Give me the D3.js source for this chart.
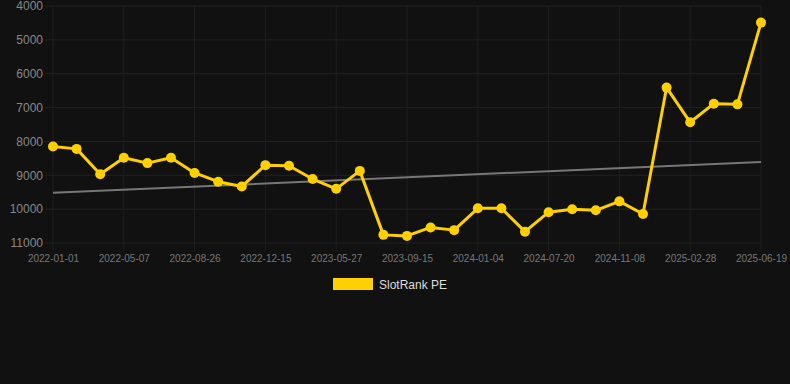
<!DOCTYPE html>
<html>
<head>
<meta charset="utf-8">
<script src="https://cdn.jsdelivr.net/npm/d3@7"></script>
<style>
  html, body { margin: 0; padding: 0; background: #111111; }
  svg { display: block; }
</style>
</head>
<body>
<svg id="chart" width="790" height="384"></svg>
<script>
const categories = [
  "2022-01-01","2022-02-12","2022-03-26","2022-05-07","2022-06-13","2022-07-20",
  "2022-08-26","2022-10-02","2022-11-08","2022-12-15","2023-02-07","2023-04-02",
  "2023-05-27","2023-07-03","2023-08-09","2023-09-15","2023-10-22","2023-11-28",
  "2024-01-04","2024-03-10","2024-05-15","2024-07-20","2024-08-26","2024-10-02",
  "2024-11-08","2024-12-15","2025-01-21","2025-02-28","2025-04-06","2025-05-13",
  "2025-06-19"
];
const rankValues = [
  8150, 8220, 8970, 8480, 8640, 8480,
  8930, 9190, 9330, 8700, 8720, 9110,
  9400, 8870, 10760, 10790, 10540, 10620,
  9975, 9975, 10665, 10090, 10005, 10035,
  9770, 10145, 6410, 7435, 6885, 6905,
  4490
];
const trendValues = [9515, 8605];
const yTicks = [4000, 5000, 6000, 7000, 8000, 9000, 10000, 11000];
const seriesName = "SlotRank PE";

(function () {
const svg = d3.select("#chart");
const mLeft = 53, mRight = 761, mTop = 6, mBottom = 243;

const x = d3.scalePoint().domain(categories).range([mLeft, mRight]);
const y = d3.scaleLinear().domain([4000, 11000]).range([mTop, mBottom]);

const tickCats = categories.filter((d, i) => i % 3 === 0);

// grid
const grid = svg.append("g");
grid.selectAll("line.h").data(yTicks).join("line")
  .attr("x1", mLeft - 8).attr("x2", mRight)
  .attr("y1", d => y(d)).attr("y2", d => y(d))
  .attr("stroke", "#222222").attr("stroke-width", 1);
grid.selectAll("line.v").data(tickCats).join("line")
  .attr("x1", d => x(d)).attr("x2", d => x(d))
  .attr("y1", mTop).attr("y2", mBottom + 8)
  .attr("stroke", "#1f1f1f").attr("stroke-width", 1);

// y axis
const yAxis = d3.axisLeft(y).tickValues(yTicks).tickSize(0).tickPadding(0).tickFormat(d3.format("d"));
const yg = svg.append("g").attr("transform", `translate(${mLeft - 10},0)`).call(yAxis);
yg.select(".domain").remove();
yg.selectAll("text").attr("fill", "#888888").attr("font-size", "12px")
  .attr("font-family", "Liberation Sans, Arial, sans-serif");

// x axis
const xAxis = d3.axisBottom(x).tickValues(tickCats).tickSize(0).tickPadding(0);
const xg = svg.append("g").attr("transform", `translate(0,${mBottom + 12})`).call(xAxis);
xg.select(".domain").remove();
xg.selectAll("text").attr("fill", "#777777").attr("font-size", "10px")
  .attr("font-family", "Liberation Sans, Arial, sans-serif");

// trend line
const trendLine = d3.line()
  .x((d, i) => i === 0 ? x(categories[0]) : x(categories[categories.length - 1]))
  .y(d => y(d));
svg.append("path").datum(trendValues)
  .attr("d", trendLine).attr("fill", "none")
  .attr("stroke", "#777777").attr("stroke-width", 2);

// series line
const color = "#ffd000";
const line = d3.line().x((d, i) => x(categories[i])).y(d => y(d));
svg.append("path").datum(rankValues)
  .attr("d", line).attr("fill", "none")
  .attr("stroke", color).attr("stroke-width", 3)
  .attr("stroke-linejoin", "round");

svg.append("g").selectAll("circle").data(rankValues).join("circle")
  .attr("cx", (d, i) => x(categories[i])).attr("cy", d => y(d))
  .attr("r", 5).attr("fill", color);

// legend
const lg = svg.append("g");
lg.append("rect").attr("x", 333).attr("y", 278).attr("width", 40).attr("height", 12).attr("fill", color);
lg.append("text").attr("x", 379).attr("y", 288.5).text(seriesName)
  .attr("fill", "#dddddd").attr("font-size", "12px")
  .attr("font-family", "Liberation Sans, Arial, sans-serif");
})();
</script>
</body>
</html>
